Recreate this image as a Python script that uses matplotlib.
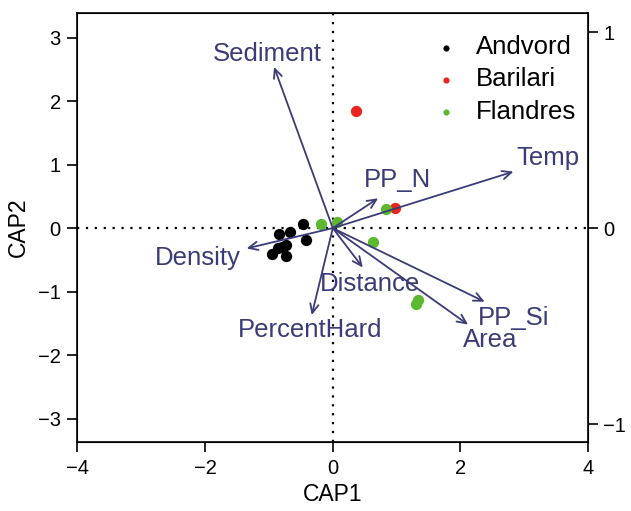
import numpy as np
import matplotlib
import matplotlib.pyplot as plt

matplotlib.use("agg")
plt.rcParams["font.family"] = ["Liberation Sans", "DejaVu Sans"]

# site scores (CAP1, CAP2)
andvord_x = [-0.47, -0.84, -0.67, -0.42, -0.73, -0.86, -0.96, -0.73, -0.80]
andvord_y = [0.07, -0.10, -0.06, -0.18, -0.27, -0.32, -0.41, -0.44, -0.30]
barilari_x = [0.36, 0.97]
barilari_y = [1.84, 0.31]
flandres_x = [-0.18, 0.07, 0.84, 0.63, 1.30, 1.34]
flandres_y = [0.07, 0.09, 0.30, -0.22, -1.19, -1.14]

# environmental vectors (tips, in CAP units) and where their labels sit
env_names = ["Sediment", "Temp", "PP_N", "Density", "PercentHard",
             "Distance", "PP_Si", "Area"]
env_x = [-0.92, 2.83, 0.71, -1.35, -0.33, 0.47, 2.38, 2.12]
env_y = [2.54, 0.89, 0.47, -0.32, -1.37, -0.62, -1.16, -1.52]
lab_x = [-1.02, 3.37, 1.02, -2.12, -0.36, 0.58, 2.84, 2.46]
lab_y = [2.74, 1.10, 0.76, -0.47, -1.61, -0.88, -1.42, -1.76]

x_ticks = [-4, -2, 0, 2, 4]
y_ticks = [-3, -2, -1, 0, 1, 2, 3]
right_ticks = [-1, 0, 1]
vec_scale = 3.09  # right-axis unit in CAP units

navy = "#3b3b78"
green = "#5cb82e"
red = "#e8261f"


def minus(vals):
    return [str(v).replace("-", "\u2212") for v in vals]


fig = plt.figure(figsize=(6.31, 5.11), dpi=100)
ax = fig.add_axes([0.1228, 0.135, 0.8092, 0.8396])
ax.set_xlim(-4, 4)
ax.set_ylim(-3.37, 3.39)

ax.axhline(0, color="black", lw=1.6, ls=(0, (1, 3)), zorder=1)
ax.axvline(0, color="black", lw=1.6, ls=(0, (1, 3)), zorder=1)

ax.scatter(andvord_x, andvord_y, s=66, color="black", lw=0, zorder=3, label="Andvord")
ax.scatter(barilari_x, barilari_y, s=66, color=red, lw=0, zorder=3, label="Barilari")
ax.scatter(flandres_x, flandres_y, s=66, color=green, lw=0, zorder=3, label="Flandres")

for name, vx, vy, lx, ly in zip(env_names, env_x, env_y, lab_x, lab_y):
    ax.annotate("", xy=(vx, vy), xytext=(0, 0),
                arrowprops=dict(arrowstyle="->,head_length=0.65,head_width=0.3",
                                color=navy, lw=1.3, shrinkA=0, shrinkB=0),
                zorder=4)
    ax.text(lx, ly, name, color=navy, fontsize=18.5, ha="center", va="center", zorder=5)

ax.set_xticks(x_ticks)
ax.set_yticks(y_ticks)
ax.set_xticklabels(minus(x_ticks))
ax.set_yticklabels(minus(y_ticks))
ax.tick_params(direction="out", length=7, width=1.2, labelsize=14.5, pad=5)
for sp in ax.spines.values():
    sp.set_linewidth(1.2)
ax.set_xlabel("CAP1", fontsize=16.5, labelpad=4)
ax.set_ylabel("CAP2", fontsize=16.5, labelpad=6)

ax2 = ax.twinx()
ax2.set_ylim(-3.37 / vec_scale, 3.39 / vec_scale)
ax2.set_yticks(right_ticks)
ax2.set_yticklabels(minus(right_ticks))
ax2.tick_params(direction="out", length=7, width=1.2, labelsize=14.5, pad=4)

leg = ax.legend(loc="upper right", bbox_to_anchor=(1.012, 0.99), frameon=False,
                fontsize=18.5, markerscale=0.55, handletextpad=0.15,
                labelspacing=0.32, borderaxespad=0.3)

fig.savefig("out.png", dpi=100)
